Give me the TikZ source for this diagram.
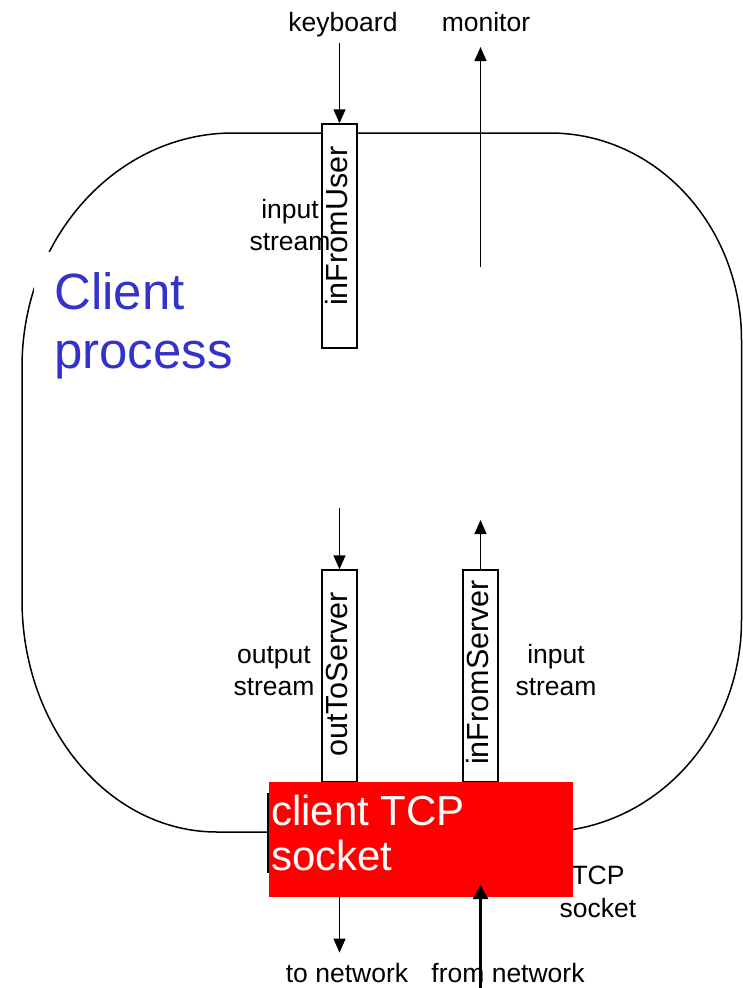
\documentclass[tikz,border=0pt]{standalone}
\usepackage{fontspec}
\setmainfont{Liberation Sans}
\usetikzlibrary{arrows.meta}
\definecolor{clientblue}{RGB}{51,51,204}
\begin{document}
\begin{tikzpicture}[x=1pt,y=-1pt,
  lbl/.style={font=\fontsize{26.5}{31.5}\selectfont, inner sep=0pt, anchor=base},
  rotlbl/.style={font=\fontsize{30.5}{36}\selectfont, rotate=90, inner sep=0pt, anchor=base west},
  streambox/.style={draw, fill=white, line width=1.5pt, minimum width=35pt, inner sep=0pt},
  flow/.style={line width=1.5pt, -{Triangle[length=14pt,width=12pt]}},
  bigflow/.style={line width=3pt, -{Triangle[length=14pt,width=15pt]}},
  outline/.style={line width=1.5pt}]
\useasboundingbox (0,0) rectangle (742,988);
\fill[white] (0,0) rectangle (742,988);

% process outline
\draw[outline] (233,133) -- (550,133)
  .. controls (656,133) and (741.5,225.7) .. (741.5,340) -- (741.5,620)
  .. controls (741.5,737.1) and (652.5,832) .. (542,832) -- (217,832)
  .. controls (109.3,832) and (22,728.1) .. (22,600) -- (22,367)
  .. controls (22,237.8) and (116.5,133) .. cycle;

% Client process label
\fill[white] (34,252) rectangle (240,395);
\node[anchor=base west, inner sep=0pt, text=clientblue, font=\fontsize{51}{59}\selectfont] (cl1) at (54,309) {Client};
\node[anchor=base west, inner sep=0pt, text=clientblue, font=\fontsize{51}{59}\selectfont] (cl2) at (54,368) {process};

% stream boxes
\node[streambox, minimum height=224pt] (ufbox) at (339.5,236) {};
\node[streambox, minimum height=212pt] (osbox) at (339.5,676) {};
\node[streambox, minimum height=212pt] (isbox) at (480.5,676) {};

\node[rotlbl] (uft) at (347,306) {inFromUser};
\node[rotlbl] (ost) at (347,757) {outToServer};
\node[rotlbl] (ist) at (488,765) {inFromServer};

% labels
\node[lbl] (kb) at (343,31) {keyboard};
\node[lbl] (mon) at (486,31) {monitor};
\node[lbl] (is1a) at (290,218) {input};
\node[lbl] (is1b) at (290,250) {stream};
\node[lbl] (os1) at (274,663) {output};
\node[lbl] (os2) at (274,695) {stream};
\node[lbl] (is2a) at (556,663) {input};
\node[lbl] (is2b) at (556,695) {stream};
\node[lbl] (tonet) at (347,982) {to network};
\node[lbl] (fromnet) at (508,982) {from network};
\node[lbl] (ts1) at (598,884) {TCP};
\node[lbl] (ts2) at (598,917) {socket};

% coordinates
\coordinate (monsrc) at (480.5,267);
\coordinate (ossrc) at (339.5,508);
\coordinate (isdst) at (480.5,520);
\coordinate (netsrc) at (480.5,990);
\coordinate (netdst) at (480.5,885);

% arrows
\draw[flow, shorten <=6pt] (kb.south -| ufbox.north) -- (ufbox.north);
\draw[flow] (monsrc) -- (480.5,47);
\draw[flow] (ossrc) -- (osbox.north);
\draw[flow] (isbox.north) -- (isdst);

% socket
\node[fill=red, inner sep=0pt, minimum width=304pt, minimum height=115pt, anchor=north west] (sock) at (269,782) {};
\node[anchor=base west, inner sep=0pt, text=white, font=\fontsize{42}{47}\selectfont] (sk1) at (271,825) {client TCP};
\node[anchor=base west, inner sep=0pt, text=white, font=\fontsize{42}{47}\selectfont] (sk2) at (271,870) {socket};
\draw[line width=1.2pt] (268,793) -- (268,873);

\draw[flow, shorten >=10pt] (sock.south -| osbox.south) -- (tonet.north -| osbox.south);
\draw[bigflow] (netsrc) -- (netdst);
\end{tikzpicture}
\end{document}
